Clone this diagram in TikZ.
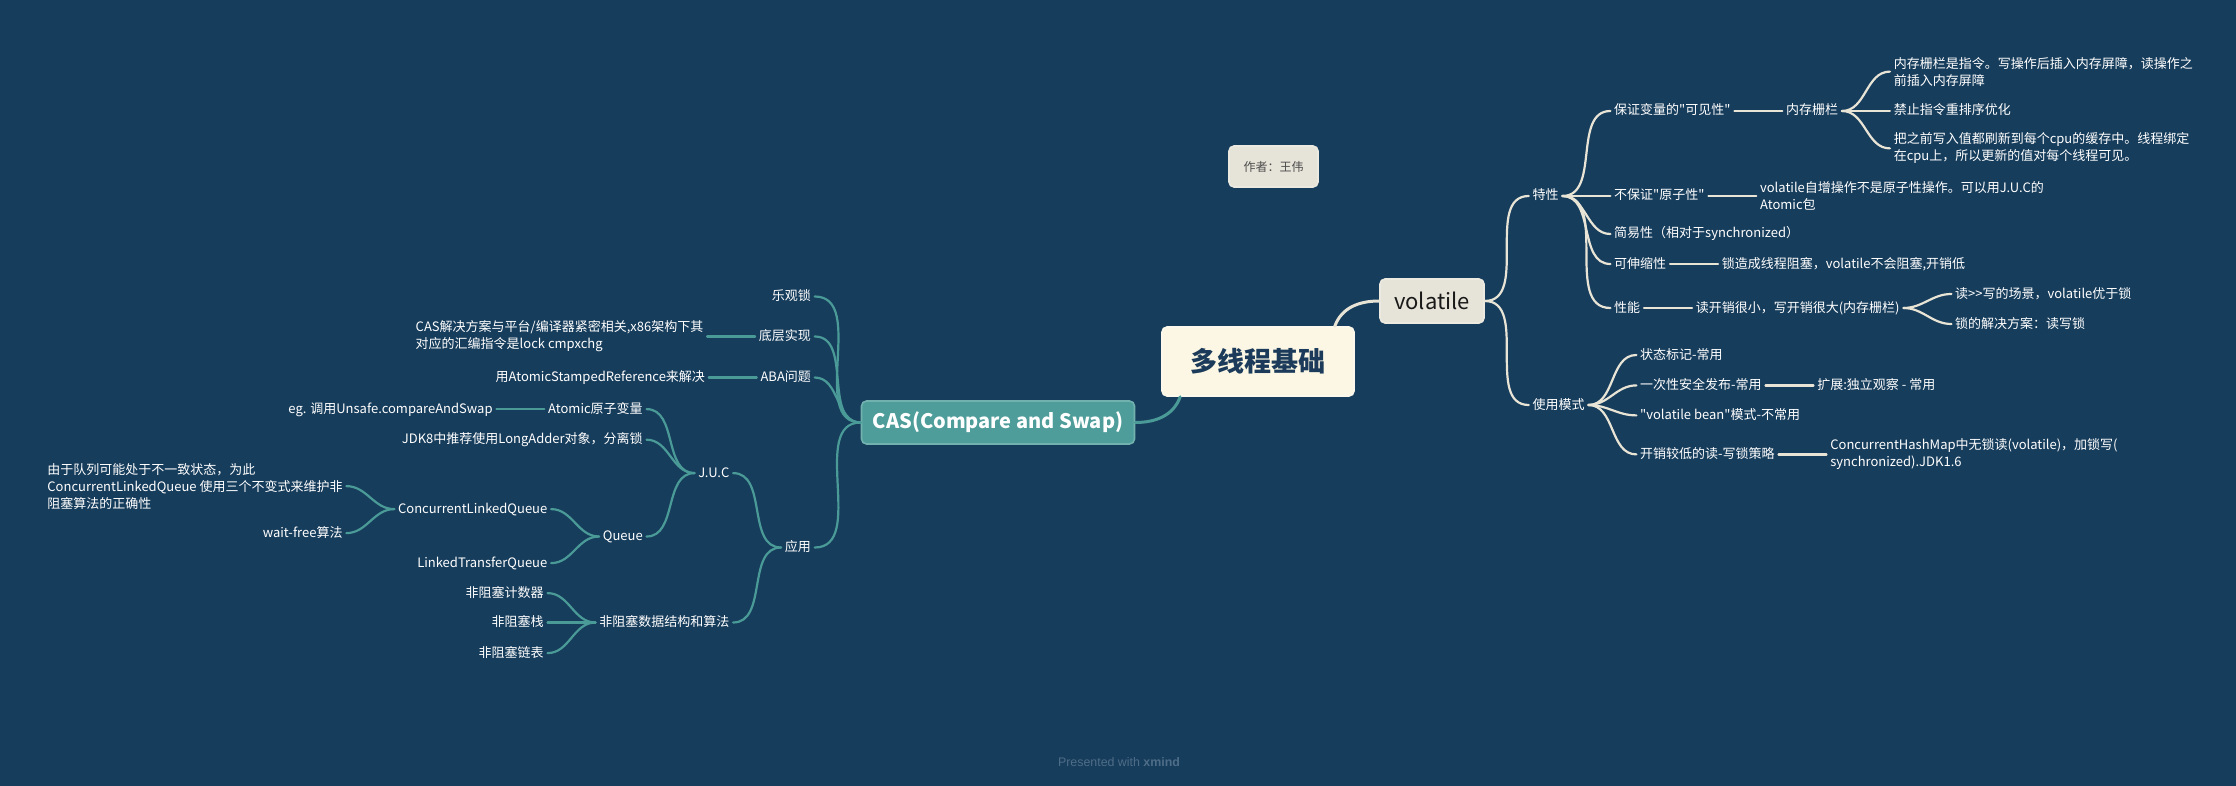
\documentclass[tikz,border=0pt]{standalone}
\usepackage{fontspec}
\newfontfamily\cjk{Noto Sans CJK SC}
\newfontfamily\brandfont{Liberation Sans}
\usetikzlibrary{positioning}

\definecolor{bgblue}{HTML}{173D5C}
\definecolor{creamline}{HTML}{E8E4D6}
\definecolor{tealline}{HTML}{4A9A98}
\definecolor{tealfill}{HTML}{4E9D9A}
\definecolor{rootfill}{HTML}{FBF7E4}
\definecolor{greyfill}{HTML}{E6E3D8}
\definecolor{roottext}{HTML}{1C3B5A}
\definecolor{footgrey}{HTML}{4E6D88}

\begin{document}
\begin{tikzpicture}[x=0.5pt, y=-0.5pt, node distance=24pt, thick]
    % Styles
    \tikzstyle{rootbox} = [rectangle, rounded corners=2.5pt, fill=rootfill, draw=rootfill!70!white, minimum width=96pt, minimum height=34.5pt, text=roottext, font=\cjk\bfseries\fontsize{13.5}{15}\selectfont]
    \tikzstyle{volbox} = [rectangle, rounded corners=2.5pt, fill=greyfill, draw=greyfill!80!white, minimum width=52pt, minimum height=22pt, text=black!90, font=\cjk\fontsize{11}{13}\selectfont]
    \tikzstyle{casbox} = [rectangle, rounded corners=2.5pt, fill=tealfill, draw=tealfill!80!white, minimum width=136.5pt, minimum height=21.5pt, text=white, font=\cjk\bfseries\fontsize{10}{12}\selectfont]
    \tikzstyle{authbox} = [rectangle, rounded corners=2.5pt, fill=greyfill, draw=greyfill!80!white, minimum width=44.5pt, minimum height=20.5pt, text=black!70, font=\cjk\fontsize{6}{7}\selectfont]
    \tikzstyle{rtxt} = [anchor=west, text=white, font=\cjk\fontsize{6.5}{8.5}\selectfont, inner xsep=1.5pt, inner ysep=0pt, text height=5.2pt, text depth=1.2pt]
    \tikzstyle{ltxt} = [anchor=east, text=white, font=\cjk\fontsize{6.5}{8.5}\selectfont, inner xsep=1.5pt, inner ysep=0pt, text height=5.2pt, text depth=1.2pt]
    \tikzstyle{rnote} = [anchor=west, text=white, font=\cjk\fontsize{6.5}{8.5}\selectfont, inner xsep=1.5pt, inner ysep=0pt, align=left]
    \tikzstyle{lnote} = [anchor=east, text=white, font=\cjk\fontsize{6.5}{8.5}\selectfont, inner xsep=1.5pt, inner ysep=0pt, align=left]
    \tikzstyle{vline} = [draw=creamline, line width=1.1pt, line cap=round]
    \tikzstyle{cline} = [draw=tealline, line width=1.1pt, line cap=round]
    \tikzstyle{footer} = [text=footgrey, font=\brandfont\fontsize{6.2}{7}\selectfont]

    % Canvas
    \useasboundingbox (0,0) rectangle (2236,786);
    \fill [bgblue] (0,0) rectangle (2236,786);

    % Central topic and main branches
    \node [rootbox] (root) at (1258,361.5) {多线程基础};
    \node [volbox] (vol) at (1432,301) {volatile};
    \node [casbox] (cas) at (998,422.5) {CAS(Compare and Swap)};
    \node [authbox] (author) at (1273.5,166.5) {作者：王伟};

    % volatile: features
    \node [rtxt, right=22pt of vol, yshift=52.5pt] (feat) {特性};
    \node [rtxt, right=of feat, yshift=42.5pt] (vis) {保证变量的"可见性"};
    \node [rtxt, right=of vis] (fence) {内存栅栏};
    \node [rnote, right=of fence, yshift=19.7pt] (fence1) {内存栅栏是指令。写操作后插入内存屏障，读操作之\\前插入内存屏障};
    \node [rtxt, right=of fence] (fence2) {禁止指令重排序优化};
    \node [rnote, right=of fence, yshift=-18.7pt] (fence3) {把之前写入值都刷新到每个cpu的缓存中。线程绑定\\在cpu上，所以更新的值对每个线程可见。};
    \node [rtxt, right=of feat] (atom) {不保证"原子性"};
    \node [rnote, right=of atom] (atomd) {volatile自增操作不是原子性操作。可以用J.U.C的\\Atomic包};
    \node [rtxt, right=of feat, yshift=-19pt] (simple) {简易性（相对于synchronized）};
    \node [rtxt, right=of feat, yshift=-34pt] (scal) {可伸缩性};
    \node [rtxt, right=of scal] (scald) {锁造成线程阻塞，volatile不会阻塞,开销低};
    \node [rtxt, right=of feat, yshift=-56pt] (perf) {性能};
    \node [rtxt, right=of perf] (perfd) {读开销很小，写开销很大(内存栅栏)};
    \node [rtxt, right=of perfd, yshift=7pt] (perf1) {读>>写的场景，volatile优于锁};
    \node [rtxt, right=of perfd, yshift=-8pt] (perf2) {锁的解决方案：读写锁};

    % volatile: usage
    \node [rtxt, right=22pt of vol, yshift=-52pt] (usage) {使用模式};
    \node [rtxt, right=of usage, yshift=25pt] (use1) {状态标记-常用};
    \node [rtxt, right=of usage, yshift=9.8pt] (use2) {一次性安全发布-常用};
    \node [rtxt, right=of use2] (use2d) {扩展:独立观察 - 常用};
    \node [rtxt, right=of usage, yshift=-5.2pt] (use3) {"volatile bean"模式-不常用};
    \node [rtxt, right=of usage, yshift=-24.7pt] (use4) {开销较低的读-写锁策略};
    \node [rnote, right=of use4] (use4d) {ConcurrentHashMap中无锁读(volatile)，加锁写(\\synchronized).JDK1.6};

    % CAS branches
    \node [ltxt, left=23pt of cas, yshift=63pt] (optim) {乐观锁};
    \node [ltxt, left=23pt of cas, yshift=43pt] (impl) {底层实现};
    \node [lnote, left=of impl] (impld) {CAS解决方案与平台/编译器紧密相关,x86架构下其\\对应的汇编指令是lock cmpxchg};
    \node [ltxt, left=23pt of cas, yshift=22.5pt] (aba) {ABA问题};
    \node [ltxt, left=of aba] (abad) {用AtomicStampedReference来解决};
    \node [ltxt, left=23pt of cas, yshift=-62.5pt] (apply) {应用};
    \node [ltxt, left=of apply, yshift=37.2pt] (juc) {J.U.C};
    \node [ltxt, left=of juc, yshift=32pt] (atomic) {Atomic原子变量};
    \node [ltxt, left=of atomic] (atomicd) {eg. 调用Unsafe.compareAndSwap};
    \node [ltxt, left=of juc, yshift=16.7pt] (adder) {JDK8中推荐使用LongAdder对象，分离锁};
    \node [ltxt, left=of juc, yshift=-31.7pt] (queue) {Queue};
    \node [ltxt, left=of queue, yshift=13.7pt] (clq) {ConcurrentLinkedQueue};
    \node [lnote, left=of clq, yshift=11.5pt] (clqd) {由于队列可能处于不一致状态，为此\\ConcurrentLinkedQueue 使用三个不变式来维护非\\阻塞算法的正确性};
    \node [ltxt, left=of clq, yshift=-12pt] (waitfree) {wait-free算法};
    \node [ltxt, left=of queue, yshift=-13.3pt] (ltq) {LinkedTransferQueue};
    \node [ltxt, left=of apply, yshift=-37.5pt] (nonblock) {非阻塞数据结构和算法};
    \node [ltxt, left=of nonblock, yshift=14.7pt] (nb1) {非阻塞计数器};
    \node [ltxt, left=of nonblock] (nb2) {非阻塞栈};
    \node [ltxt, left=of nonblock, yshift=-15.3pt] (nb3) {非阻塞链表};

    % Footer
    \node [footer] (brand) at (1119,762) {Presented with \textbf{xmind}};

    % Connections: root
    \draw [vline, line width=1.5pt] ([xshift=-10pt]root.north east) to [out=70, in=180] (vol.west);
    \draw [cline, line width=1.5pt] ([xshift=9.5pt]root.south west) to [out=250, in=0] (cas.east);

    % Connections: volatile
    \draw [vline] (vol.east) to [out=0, in=180] (feat.west);
    \draw [vline] (vol.east) to [out=0, in=180] (usage.west);
    \draw [vline] (feat.east) to [out=0, in=180] (vis.west);
    \draw [vline] (feat.east) to [out=0, in=180] (atom.west);
    \draw [vline] (feat.east) to [out=0, in=180] (simple.west);
    \draw [vline] (feat.east) to [out=0, in=180] (scal.west);
    \draw [vline] (feat.east) to [out=0, in=180] (perf.west);
    \draw [vline] (vis) -- (fence);
    \draw [vline] (fence.east) to [out=0, in=180] (fence1.west);
    \draw [vline] (fence.east) to [out=0, in=180] (fence2.west);
    \draw [vline] (fence.east) to [out=0, in=180] (fence3.west);
    \draw [vline] (atom) -- (atomd);
    \draw [vline] (scal) -- (scald);
    \draw [vline] (perf) -- (perfd);
    \draw [vline] (perfd.east) to [out=0, in=180] (perf1.west);
    \draw [vline] (perfd.east) to [out=0, in=180] (perf2.west);
    \draw [vline] (usage.east) to [out=0, in=180] (use1.west);
    \draw [vline] (usage.east) to [out=0, in=180] (use2.west);
    \draw [vline] (usage.east) to [out=0, in=180] (use3.west);
    \draw [vline] (usage.east) to [out=0, in=180] (use4.west);
    \draw [vline] (use2) -- (use2d);
    \draw [vline] (use4) -- (use4d);

    % Connections: CAS
    \draw [cline] (cas.west) to [out=180, in=0] (optim.east);
    \draw [cline] (cas.west) to [out=180, in=0] (impl.east);
    \draw [cline] (cas.west) to [out=180, in=0] (aba.east);
    \draw [cline] (cas.west) to [out=180, in=0] (apply.east);
    \draw [cline] (impl) -- (impld);
    \draw [cline] (aba) -- (abad);
    \draw [cline] (apply.west) to [out=180, in=0] (juc.east);
    \draw [cline] (apply.west) to [out=180, in=0] (nonblock.east);
    \draw [cline] (juc.west) to [out=180, in=0] (atomic.east);
    \draw [cline] (juc.west) to [out=180, in=0] (adder.east);
    \draw [cline] (juc.west) to [out=180, in=0] (queue.east);
    \draw [cline] (atomic) -- (atomicd);
    \draw [cline] (queue.west) to [out=180, in=0] (clq.east);
    \draw [cline] (queue.west) to [out=180, in=0] (ltq.east);
    \draw [cline] (clq.west) to [out=180, in=0] (clqd.east);
    \draw [cline] (clq.west) to [out=180, in=0] (waitfree.east);
    \draw [cline] (nonblock.west) to [out=180, in=0] (nb1.east);
    \draw [cline] (nonblock.west) to [out=180, in=0] (nb2.east);
    \draw [cline] (nonblock.west) to [out=180, in=0] (nb3.east);
\end{tikzpicture}
\end{document}
